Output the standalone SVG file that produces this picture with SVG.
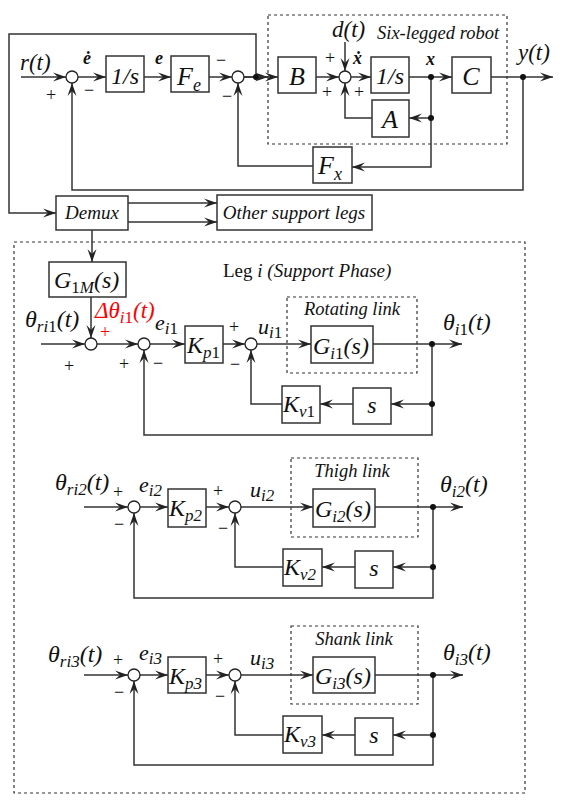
<svg xmlns="http://www.w3.org/2000/svg" width="564" height="804" viewBox="0 0 564 804" font-family="'Liberation Serif', 'Times New Roman', serif">
<defs>
<marker id="ah" markerUnits="userSpaceOnUse" markerWidth="14" markerHeight="10" viewBox="-13 -5 14 10" refX="0" refY="0" orient="auto"><path d="M0,0 L-13,-4.5 L-8,0 L-13,4.5 Z" fill="#222"/></marker>
</defs>
<style>
.bx{fill:#fff;stroke:#333;stroke-width:1.5}
.sj{fill:#fff;stroke:#222;stroke-width:1.3}
.dt{fill:#111}
.db{fill:none;stroke:#333;stroke-width:1.2;stroke-dasharray:3,3}
.cn path{fill:none;stroke:#333;stroke-width:1.5;marker-end:url(#ah)}
text{font-family:'Liberation Serif','Times New Roman',serif;fill:#111}
.i{font-style:italic}
.b{font-weight:bold;font-style:italic}
.pm{font-size:18px;fill:#111}
.red{fill:#f00}
</style>
<rect width="564" height="804" fill="#fff"/>

<rect id="robot-frame" class="db" x="268" y="15" width="239" height="129"/>
<rect id="leg-frame" class="db" x="14" y="242" width="511" height="551"/>
<rect id="rot-frame" class="db" x="287" y="297" width="130" height="76"/>
<rect id="thigh-frame" class="db" x="291" y="458" width="127" height="79"/>
<rect id="shank-frame" class="db" x="291" y="626" width="127" height="78"/>

<g class="cn" id="connectors">
<path d="M21,77 H66"/>
<path d="M78,77 H106"/>
<path d="M144,77 H171"/>
<path d="M209,77 H232"/>
<path d="M244,77 H268"/>
<path d="M244,77 H278"/>
<path d="M256,77 V34 H9 V213 H56"/>
<path d="M316,77 H339"/>
<path d="M345,42 V71"/>
<path d="M351,77 H371"/>
<path d="M409,77 H452"/>
<path d="M491,77 H553"/>
<path d="M431,77 V167 H352"/>
<path d="M431,118 H409"/>
<path d="M372,118 H345 V83"/>
<path d="M313,166 H238 V83"/>
<path d="M523,77 V190 H72 V83"/>
<path d="M128,203 H217"/>
<path d="M128,222 H217"/>
<path d="M92,230 V262"/>
<path d="M91,297 V338"/>
<path d="M41,344 H85"/>
<path d="M97,344 H138"/>
<path d="M150,344 H185"/>
<path d="M223,344 H245"/>
<path d="M257,344 H311"/>
<path d="M373,344 H462"/>
<path d="M432,344 V435 H144 V350"/>
<path d="M432,404 H391"/>
<path d="M353,404 H320"/>
<path d="M282,404 H251 V350"/>
<path d="M84,507 H128"/>
<path d="M140,507 H168"/>
<path d="M206,507 H229"/>
<path d="M241,507 H313"/>
<path d="M375,507 H463"/>
<path d="M433,507 V598 H134 V513"/>
<path d="M433,567 H393"/>
<path d="M355,567 H322"/>
<path d="M283,567 H235 V513"/>
<path d="M84,675 H128"/>
<path d="M140,675 H168"/>
<path d="M206,675 H229"/>
<path d="M241,675 H313"/>
<path d="M375,675 H463"/>
<path d="M433,675 V765 H134 V681"/>
<path d="M433,735 H393"/>
<path d="M355,735 H322"/>
<path d="M283,735 H235 V681"/>
</g>

<g id="dots">
<circle class="dt" cx="256" cy="77" r="3"/>
<circle class="dt" cx="431" cy="77" r="3"/>
<circle class="dt" cx="431" cy="118" r="3"/>
<circle class="dt" cx="523" cy="77" r="3"/>
<circle class="dt" cx="432" cy="344" r="3"/>
<circle class="dt" cx="432" cy="404" r="3"/>
<circle class="dt" cx="433" cy="507" r="3"/>
<circle class="dt" cx="433" cy="567" r="3"/>
<circle class="dt" cx="433" cy="675" r="3"/>
<circle class="dt" cx="433" cy="735" r="3"/>
</g>

<g id="sum1"><circle class="sj" cx="72" cy="77" r="6"/><text class="pm" x="46" y="101">+</text><text class="pm" x="84" y="96">−</text></g>
<g id="int1"><rect class="bx" x="106" y="56" width="38" height="36"/><text class="i" x="125" y="84" font-size="24" text-anchor="middle">1/s</text></g>
<g id="Fe"><rect class="bx" x="171" y="56" width="38" height="36"/><text class="i" x="177" y="85" font-size="26">F<tspan font-size="18" dy="6">e</tspan></text></g>
<g id="sum2"><circle class="sj" cx="238" cy="77" r="6"/><text class="pm" x="216" y="66">−</text><text class="pm" x="222" y="102">−</text></g>
<g id="B"><rect class="bx" x="278" y="57" width="38" height="36"/><text class="i" x="297" y="85" font-size="26" text-anchor="middle">B</text></g>
<g id="sum3"><circle class="sj" cx="345" cy="77" r="6"/><text class="pm" x="325" y="64">+</text><text class="pm" x="322" y="98">+</text><text class="pm" x="354" y="98">+</text></g>
<g id="int2"><rect class="bx" x="371" y="57" width="38" height="36"/><text class="i" x="390" y="84" font-size="24" text-anchor="middle">1/s</text></g>
<g id="C"><rect class="bx" x="452" y="57" width="39" height="36"/><text class="i" x="471" y="85" font-size="26" text-anchor="middle">C</text></g>
<g id="A"><rect class="bx" x="372" y="100" width="37" height="37"/><text class="i" x="390" y="128" font-size="26" text-anchor="middle">A</text></g>
<g id="Fx"><rect class="bx" x="313" y="147" width="39" height="36"/><text class="i" x="318" y="174" font-size="26">F<tspan font-size="18" dy="6">x</tspan></text></g>

<g id="top-labels">
<text class="i" x="20" y="70" font-size="23">r(t)</text>
<text class="b" x="83" y="64" font-size="18">ė</text>
<text class="b" x="155" y="64" font-size="18">e</text>
<text class="i" x="332" y="37" font-size="23">d(t)</text>
<text class="b" x="353" y="64" font-size="18">ẋ</text>
<text class="b" x="426" y="65" font-size="18">x</text>
<text class="i" x="518" y="60" font-size="23">y(t)</text>
<text class="i" x="377" y="39" font-size="18.5">Six-legged robot</text>
</g>

<g id="Demux"><rect class="bx" x="56" y="196" width="72" height="34"/><text class="i" x="92" y="219" font-size="19" text-anchor="middle">Demux</text></g>
<g id="Other"><rect class="bx" x="217" y="195" width="155" height="35"/><text class="i" x="294" y="219" font-size="19" text-anchor="middle">Other support legs</text></g>
<g id="G1M"><rect class="bx" x="49" y="262" width="77" height="35"/><text class="i" x="54" y="288" font-size="24">G<tspan font-size="17" dy="5" font-style="normal">1</tspan><tspan font-size="17">M</tspan><tspan dy="-5">(s)</tspan></text></g>
<text x="223" y="277" font-size="19">Leg <tspan class="i">i (Support Phase)</tspan></text>

<g id="row1">
<text class="i" x="25" y="327" font-size="24">θ<tspan font-size="17" dy="5">ri</tspan><tspan font-size="17" font-style="normal">1</tspan><tspan dy="-5">(t)</tspan></text>
<text class="i red" x="95" y="318" font-size="23">Δθ<tspan font-size="17" dy="5">i</tspan><tspan font-size="17" font-style="normal">1</tspan><tspan dy="-5">(t)</tspan></text>
<text class="pm red" x="100" y="338">+</text>
<g id="s11"><circle class="sj" cx="91" cy="344" r="6"/><text class="pm" x="64" y="372">+</text></g>
<g id="s12"><circle class="sj" cx="144" cy="344" r="6"/><text class="pm" x="119" y="370">+</text><text class="pm" x="153" y="369">−</text></g>
<text class="i" x="155" y="330" font-size="22">e<tspan font-size="17" dy="4">i</tspan><tspan font-size="17" font-style="normal">1</tspan></text>
<g id="Kp1"><rect class="bx" x="185" y="326" width="38" height="37"/><text class="i" x="187" y="353" font-size="24">K<tspan font-size="17" dy="5">p</tspan><tspan font-size="17" font-style="normal">1</tspan></text></g>
<g id="s13"><circle class="sj" cx="251" cy="344" r="6"/><text class="pm" x="229" y="333">+</text><text class="pm" x="230" y="370">−</text></g>
<text class="i" x="258" y="334" font-size="22">u<tspan font-size="17" dy="4">i</tspan><tspan font-size="17" font-style="normal">1</tspan></text>
<g id="Gi1"><rect class="bx" x="311" y="326" width="62" height="37"/><text class="i" x="313" y="354" font-size="24">G<tspan font-size="17" dy="5">i</tspan><tspan font-size="17" font-style="normal">1</tspan><tspan dy="-5">(s)</tspan></text></g>
<text class="i" x="352" y="315" font-size="18.5" text-anchor="middle">Rotating link</text>
<text class="i" x="443" y="330" font-size="24">θ<tspan font-size="17" dy="5">i</tspan><tspan font-size="17" font-style="normal">1</tspan><tspan dy="-5">(t)</tspan></text>
<g id="s1"><rect class="bx" x="353" y="388" width="38" height="36"/><text class="i" x="372" y="413" font-size="24" text-anchor="middle">s</text></g>
<g id="Kv1"><rect class="bx" x="282" y="386" width="38" height="37"/><text class="i" x="283" y="412" font-size="24">K<tspan font-size="17" dy="5">v</tspan><tspan font-size="17" font-style="normal">1</tspan></text></g>
</g>

<g id="row2">
<text class="i" x="55" y="490" font-size="24">θ<tspan font-size="17" dy="5">ri2</tspan><tspan dy="-5">(t)</tspan></text>
<g id="s21"><circle class="sj" cx="134" cy="507" r="6"/><text class="pm" x="113" y="498">+</text><text class="pm" x="114" y="530">−</text></g>
<text class="i" x="139" y="492" font-size="22">e<tspan font-size="17" dy="4">i2</tspan></text>
<g id="Kp2"><rect class="bx" x="168" y="489" width="38" height="38"/><text class="i" x="169" y="516" font-size="24">K<tspan font-size="17" dy="5">p2</tspan></text></g>
<g id="s22"><circle class="sj" cx="235" cy="507" r="6"/><text class="pm" x="213" y="497">+</text><text class="pm" x="218" y="534">−</text></g>
<text class="i" x="250" y="497" font-size="22">u<tspan font-size="17" dy="4">i2</tspan></text>
<g id="Gi2"><rect class="bx" x="313" y="489" width="62" height="38"/><text class="i" x="315" y="517" font-size="24">G<tspan font-size="17" dy="5">i2</tspan><tspan dy="-5">(s)</tspan></text></g>
<text class="i" x="352" y="477" font-size="18.5" text-anchor="middle">Thigh link</text>
<text class="i" x="440" y="492" font-size="24">θ<tspan font-size="17" dy="5">i2</tspan><tspan dy="-5">(t)</tspan></text>
<g id="s2"><rect class="bx" x="355" y="551" width="38" height="37"/><text class="i" x="374" y="576" font-size="24" text-anchor="middle">s</text></g>
<g id="Kv2"><rect class="bx" x="283" y="549" width="39" height="37"/><text class="i" x="284" y="575" font-size="24">K<tspan font-size="17" dy="5">v2</tspan></text></g>
</g>

<g id="row3">
<text class="i" x="48" y="662" font-size="24">θ<tspan font-size="17" dy="5">ri3</tspan><tspan dy="-5">(t)</tspan></text>
<g id="s31"><circle class="sj" cx="134" cy="675" r="6"/><text class="pm" x="113" y="666">+</text><text class="pm" x="114" y="698">−</text></g>
<text class="i" x="139" y="660" font-size="22">e<tspan font-size="17" dy="4">i3</tspan></text>
<g id="Kp3"><rect class="bx" x="168" y="657" width="38" height="36"/><text class="i" x="169" y="684" font-size="24">K<tspan font-size="17" dy="5">p3</tspan></text></g>
<g id="s32"><circle class="sj" cx="235" cy="675" r="6"/><text class="pm" x="213" y="665">+</text><text class="pm" x="215" y="702">−</text></g>
<text class="i" x="250" y="665" font-size="22">u<tspan font-size="17" dy="4">i3</tspan></text>
<g id="Gi3"><rect class="bx" x="313" y="657" width="62" height="36"/><text class="i" x="315" y="684" font-size="24">G<tspan font-size="17" dy="5">i3</tspan><tspan dy="-5">(s)</tspan></text></g>
<text class="i" x="354" y="645" font-size="18.5" text-anchor="middle">Shank link</text>
<text class="i" x="443" y="660" font-size="24">θ<tspan font-size="17" dy="5">i3</tspan><tspan dy="-5">(t)</tspan></text>
<g id="s3"><rect class="bx" x="355" y="718" width="38" height="37"/><text class="i" x="374" y="743" font-size="24" text-anchor="middle">s</text></g>
<g id="Kv3"><rect class="bx" x="283" y="716" width="39" height="37"/><text class="i" x="284" y="742" font-size="24">K<tspan font-size="17" dy="5">v3</tspan></text></g>
</g>
</svg>
